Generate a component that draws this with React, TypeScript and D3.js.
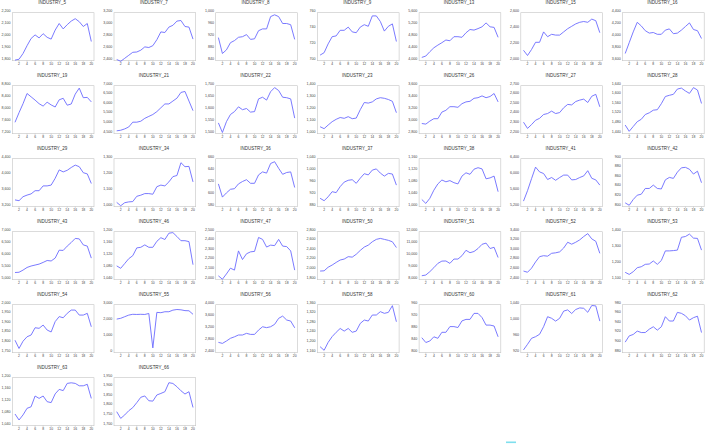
import * as d3 from "d3";

// one array per industry, 20 periods each
const IND_5 = [1805, 1812, 1860, 1925, 1985, 2015, 1990, 2025, 1995, 1980, 2055, 2110, 2065, 2100, 2130, 2150, 2125, 2085, 2110, 1960];
const IND_7 = [2420, 2390, 2440, 2490, 2540, 2545, 2575, 2630, 2620, 2650, 2750, 2880, 2870, 2960, 2990, 3060, 3070, 2970, 2960, 2760];
const IND_8 = [917, 864, 876, 900, 907, 918, 920, 927, 911, 913, 940, 946, 946, 987, 993, 987, 964, 964, 960, 911];
const IND_9 = [707, 710, 721, 730, 731, 738, 738, 742, 736, 735, 742, 745, 743, 756, 756, 749, 737, 743, 746, 724];
const IND_13 = [4110, 4155, 4300, 4430, 4520, 4600, 4690, 4665, 4800, 4800, 4780, 4930, 5040, 5020, 5070, 5130, 5260, 5130, 5110, 4780];
const IND_15 = [2130, 2065, 2140, 2230, 2230, 2360, 2300, 2330, 2320, 2320, 2360, 2400, 2430, 2460, 2480, 2490, 2480, 2520, 2500, 2350];
const IND_16 = [3720, 3900, 4080, 4240, 4180, 4100, 4060, 4070, 4040, 4040, 4110, 4130, 4050, 4060, 4110, 4170, 4230, 4120, 4100, 3970];
const IND_19 = [7580, 7900, 8200, 8540, 8430, 8320, 8200, 8120, 8250, 8160, 8090, 8330, 8380, 8150, 8190, 8520, 8720, 8400, 8410, 8260];
const IND_21 = [4650, 4680, 4750, 4850, 5100, 5100, 5150, 5300, 5400, 5500, 5650, 5850, 6050, 6050, 6200, 6350, 6650, 6700, 6200, 5700];
const IND_22 = [1545, 1505, 1550, 1580, 1592, 1612, 1600, 1605, 1590, 1592, 1645, 1652, 1640, 1675, 1692, 1680, 1652, 1650, 1645, 1565];
const IND_23 = [1058, 1042, 1072, 1100, 1120, 1135, 1128, 1142, 1125, 1130, 1200, 1260, 1255, 1265, 1290, 1300, 1295, 1285, 1270, 1175];
const IND_26 = [2970, 2960, 3010, 3050, 3050, 3160, 3190, 3250, 3250, 3240, 3300, 3330, 3340, 3390, 3400, 3430, 3400, 3420, 3470, 3330];
const IND_27 = [2320, 2255, 2295, 2340, 2360, 2400, 2410, 2435, 2410, 2420, 2470, 2505, 2500, 2535, 2550, 2560, 2525, 2590, 2610, 2480];
const IND_28 = [1476, 1450, 1470, 1490, 1500, 1520, 1527, 1538, 1540, 1565, 1595, 1600, 1604, 1626, 1630, 1618, 1608, 1632, 1622, 1566];
const IND_29 = [3370, 3350, 3450, 3490, 3520, 3600, 3600, 3720, 3720, 3740, 3910, 4120, 4070, 4110, 4180, 4240, 4200, 4050, 4020, 3780];
const IND_34 = [1027, 1006, 1025, 1030, 1032, 1065, 1072, 1082, 1082, 1078, 1125, 1135, 1130, 1155, 1188, 1195, 1275, 1250, 1252, 1155];
const IND_36 = [618, 596, 603, 609, 610, 618, 622, 625, 619, 619, 633, 638, 636, 652, 655, 644, 634, 637, 638, 612];
const IND_37 = [908, 900, 913, 930, 927, 947, 962, 968, 970, 958, 975, 990, 986, 1002, 1006, 992, 982, 991, 989, 952];
const IND_38 = [1024, 1011, 1028, 1055, 1076, 1089, 1083, 1087, 1080, 1076, 1102, 1113, 1108, 1125, 1130, 1126, 1093, 1096, 1102, 1050];
const IND_41 = [5340, 5600, 5900, 6190, 6070, 6030, 5880, 5930, 5860, 5930, 5990, 5990, 5870, 5880, 5930, 5970, 6100, 5910, 5870, 5740];
const IND_42 = [808, 803, 815, 824, 826, 838, 838, 845, 838, 837, 856, 861, 859, 872, 881, 882, 878, 868, 874, 850];
const IND_43 = [5300, 5310, 5400, 5510, 5570, 5610, 5650, 5720, 5800, 5780, 5900, 6230, 6220, 6400, 6550, 6720, 6700, 6450, 6400, 5900];
const IND_46 = [1086, 1078, 1094, 1110, 1120, 1146, 1148, 1156, 1148, 1148, 1168, 1180, 1174, 1195, 1197, 1184, 1170, 1170, 1167, 1090];
const IND_47 = [2040, 2005, 2060, 2120, 2100, 2300, 2210, 2270, 2290, 2295, 2440, 2420, 2340, 2360, 2355, 2420, 2350, 2345, 2300, 2100];
const IND_50 = [1980, 1985, 2060, 2105, 2160, 2210, 2230, 2280, 2270, 2330, 2410, 2480, 2520, 2590, 2640, 2660, 2640, 2620, 2590, 2470];
const IND_51 = [8330, 8390, 8670, 9000, 9360, 9550, 9560, 9360, 9720, 9720, 10000, 10450, 10250, 10350, 10600, 10950, 11050, 10600, 10700, 9850];
const IND_52 = [2580, 2555, 2640, 2770, 2880, 2900, 2890, 2950, 2960, 2980, 3060, 3180, 3140, 3180, 3230, 3300, 3360, 3250, 3200, 2950];
const IND_53 = [1146, 1133, 1150, 1175, 1181, 1196, 1198, 1217, 1196, 1220, 1280, 1280, 1282, 1285, 1365, 1370, 1385, 1360, 1358, 1285];
const IND_54 = [1815, 1772, 1810, 1833, 1842, 1880, 1877, 1894, 1868, 1858, 1912, 1938, 1932, 1955, 1972, 1972, 1946, 1946, 1955, 1885];
const IND_55 = [2100, 2150, 2250, 2350, 2400, 2390, 2400, 2390, 2450, 300, 2520, 2500, 2560, 2560, 2660, 2700, 2680, 2630, 2620, 2400];
const IND_56 = [2745, 2710, 2790, 2880, 2930, 2990, 2990, 3045, 3010, 3010, 3155, 3265, 3235, 3265, 3345, 3545, 3620, 3490, 3455, 3230];
const IND_58 = [1185, 1170, 1203, 1227, 1245, 1261, 1250, 1261, 1245, 1250, 1282, 1296, 1292, 1317, 1317, 1331, 1324, 1328, 1356, 1289];
const IND_60 = [850, 834, 839, 853, 848, 868, 868, 887, 887, 884, 906, 911, 911, 931, 931, 917, 892, 892, 889, 853];
const IND_61 = [927, 941, 956, 960, 966, 985, 1010, 1006, 999, 1006, 1024, 1027, 1018, 1028, 1032, 1031, 1021, 1038, 1037, 999];
const IND_62 = [902, 915, 918, 925, 922, 922, 929, 934, 927, 934, 955, 946, 946, 964, 962, 957, 948, 953, 956, 922];
const IND_63 = [1079, 1059, 1076, 1098, 1103, 1139, 1131, 1139, 1120, 1117, 1146, 1161, 1157, 1181, 1183, 1181, 1173, 1173, 1178, 1131];
const IND_66 = [1773, 1738, 1756, 1778, 1794, 1820, 1848, 1855, 1830, 1828, 1860, 1868, 1877, 1924, 1920, 1903, 1882, 1865, 1877, 1795];

const periods = d3.range(1, 21);
const xTickLabels = [2, 4, 6, 8, 10, 12, 14, 16, 18, 20];

// y tick labels per panel
const panels = [
  { name: "INDUSTRY_5", data: IND_5, ticks: [1800, 1900, 2000, 2100, 2200] },
  { name: "INDUSTRY_7", data: IND_7, ticks: [2400, 2600, 2800, 3000, 3200] },
  { name: "INDUSTRY_8", data: IND_8, ticks: [840, 880, 920, 960, 1000] },
  { name: "INDUSTRY_9", data: IND_9, ticks: [700, 720, 740, 760] },
  { name: "INDUSTRY_13", data: IND_13, ticks: [4000, 4400, 4800, 5200, 5600] },
  { name: "INDUSTRY_15", data: IND_15, ticks: [2000, 2200, 2400, 2600] },
  { name: "INDUSTRY_16", data: IND_16, ticks: [3600, 3800, 4000, 4200, 4400] },
  { name: "INDUSTRY_19", data: IND_19, ticks: [7200, 7600, 8000, 8400, 8800] },
  { name: "INDUSTRY_21", data: IND_21, ticks: [4500, 5000, 5500, 6000, 6500, 7000] },
  { name: "INDUSTRY_22", data: IND_22, ticks: [1500, 1550, 1600, 1650, 1700] },
  { name: "INDUSTRY_23", data: IND_23, ticks: [1000, 1100, 1200, 1300, 1400] },
  { name: "INDUSTRY_26", data: IND_26, ticks: [2800, 3000, 3200, 3400, 3600] },
  { name: "INDUSTRY_27", data: IND_27, ticks: [2200, 2300, 2400, 2500, 2600, 2700] },
  { name: "INDUSTRY_28", data: IND_28, ticks: [1440, 1480, 1520, 1560, 1600, 1640] },
  { name: "INDUSTRY_29", data: IND_29, ticks: [3200, 3600, 4000, 4400] },
  { name: "INDUSTRY_34", data: IND_34, ticks: [1000, 1100, 1200, 1300] },
  { name: "INDUSTRY_36", data: IND_36, ticks: [580, 600, 620, 640, 660] },
  { name: "INDUSTRY_37", data: IND_37, ticks: [880, 920, 960, 1000, 1040] },
  { name: "INDUSTRY_38", data: IND_38, ticks: [1000, 1040, 1080, 1120, 1160] },
  { name: "INDUSTRY_41", data: IND_41, ticks: [5200, 5600, 6000, 6400] },
  { name: "INDUSTRY_42", data: IND_42, ticks: [800, 820, 840, 860, 880, 900] },
  { name: "INDUSTRY_43", data: IND_43, ticks: [5000, 5500, 6000, 6500, 7000] },
  { name: "INDUSTRY_46", data: IND_46, ticks: [1040, 1080, 1120, 1160, 1200] },
  { name: "INDUSTRY_47", data: IND_47, ticks: [2000, 2100, 2200, 2300, 2400, 2500] },
  { name: "INDUSTRY_50", data: IND_50, ticks: [1800, 2000, 2200, 2400, 2600, 2800] },
  { name: "INDUSTRY_51", data: IND_51, ticks: [8000, 9000, 10000, 11000, 12000] },
  { name: "INDUSTRY_52", data: IND_52, ticks: [2400, 2600, 2800, 3000, 3200, 3400] },
  { name: "INDUSTRY_53", data: IND_53, ticks: [1100, 1200, 1300, 1400] },
  { name: "INDUSTRY_54", data: IND_54, ticks: [1750, 1800, 1850, 1900, 1950, 2000] },
  { name: "INDUSTRY_55", data: IND_55, ticks: [0, 1000, 2000, 3000] },
  { name: "INDUSTRY_56", data: IND_56, ticks: [2400, 2800, 3200, 3600, 4000] },
  { name: "INDUSTRY_58", data: IND_58, ticks: [1160, 1200, 1240, 1280, 1320, 1360] },
  { name: "INDUSTRY_60", data: IND_60, ticks: [800, 840, 880, 920, 960] },
  { name: "INDUSTRY_61", data: IND_61, ticks: [920, 960, 1000, 1040] },
  { name: "INDUSTRY_62", data: IND_62, ticks: [880, 900, 920, 940, 960, 980] },
  { name: "INDUSTRY_63", data: IND_63, ticks: [1040, 1080, 1120, 1160, 1200] },
  { name: "INDUSTRY_66", data: IND_66, ticks: [1700, 1750, 1800, 1850, 1900, 1950] },
];

const width = 708;
const height = 444;
const cols = 7;
const colW = 101.7;
const rowH = 73;
const boxL = 12.3;
const boxW = 81.7;
const boxT = 12.7;
const boxH = 48;
const lineColor = "#6b6bff";
const fmt = d3.format(",");
const font = "'Liberation Sans', Arial, sans-serif";

function Panel({ p, i }) {
  const c = i % cols;
  const r = Math.floor(i / cols);
  const left = boxL + c * colW;
  const top = boxT + r * rowH;
  const x = d3.scaleLinear().domain([1, 20]).range([left + 2.7, left + boxW - 2.7]);
  const y = d3
    .scaleLinear()
    .domain([p.ticks[0], p.ticks[p.ticks.length - 1]])
    .range([top + boxH, top]);
  const line = d3
    .line<number>()
    .x((d, k) => x(periods[k]))
    .y((d) => y(d));

  return (
    <g>
      <text x={left + boxW / 2 - 1} y={top - 10.6} fontSize={4.5} textAnchor="middle" dominantBaseline="central" fill="#333">
        {p.name}
      </text>
      <rect x={left} y={top} width={boxW} height={boxH} fill="none" stroke="#c4c4c4" strokeWidth={0.6} />
      {p.ticks.map((t) => (
        <text key={t} x={left - 1.8} y={y(t) - 2.2} fontSize={3.6} textAnchor="end" dominantBaseline="central" fill="#444">
          {fmt(t)}
        </text>
      ))}
      {xTickLabels.map((t) => (
        <g key={t}>
          <line x1={x(t)} x2={x(t)} y1={top + boxH} y2={top + boxH + 1.2} stroke="#aaa" strokeWidth={0.5} />
          <text x={x(t)} y={top + boxH + 2.8} fontSize={3.4} textAnchor="middle" dominantBaseline="central" fill="#444">
            {t}
          </text>
        </g>
      ))}
      <path d={line(p.data) || ""} fill="none" stroke={lineColor} strokeWidth={0.9} />
    </g>
  );
}

export default function App() {
  return (
    <svg
      width={width}
      height={height}
      style={{ position: "absolute", left: 0, top: 0, background: "#fff", fontFamily: font }}
    >
      <rect x={0} y={0} width={width} height={height} fill="#fff" />
      {panels.map((p, i) => (
        <Panel key={p.name} p={p} i={i} />
      ))}
      <rect x={506} y={441.5} width={10} height={1.6} fill="#7fdfee" />
    </svg>
  );
}
